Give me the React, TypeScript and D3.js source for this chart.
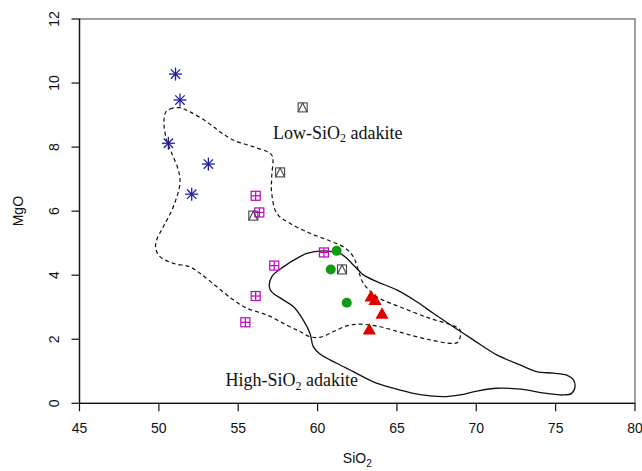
import React from "react";
import * as d3 from "d3";

const xTicks = [45, 50, 55, 60, 65, 70, 75, 80];
const yTicks = [0, 2, 4, 6, 8, 10, 12];

const asteriskSiO2 = [51.05, 51.33, 50.6, 53.12, 52.07];
const asteriskMgO = [10.28, 9.47, 8.12, 7.47, 6.53];

const plusSqSiO2 = [56.1, 56.33, 57.27, 56.1, 55.45, 60.4];
const plusSqMgO = [6.48, 5.96, 4.3, 3.35, 2.53, 4.71];

const circleSiO2 = [61.2, 60.83, 61.84];
const circleMgO = [4.76, 4.18, 3.14];

const triSqSiO2 = [59.06, 57.64, 55.95, 61.54];
const triSqMgO = [9.24, 7.21, 5.86, 4.18];

const triangleSiO2 = [63.37, 63.62, 64.06, 63.26];
const triangleMgO = [3.3, 3.19, 2.76, 2.27];

const lowSiO2FieldX = [50.43, 50.7, 51.33, 51.96, 53.02, 53.85, 54.69, 55.95, 57.0, 57.17, 57.11, 57.11, 57.43, 58.26, 59.52, 60.78, 61.73, 62.25, 62.57, 62.88, 63.73, 65.4, 67.09, 68.45, 68.98, 68.87, 68.55, 67.09, 65.4, 63.94, 62.67, 61.84, 61.0, 60.15, 59.52, 58.89, 58.06, 56.8, 55.54, 54.69, 53.65, 52.59, 51.96, 50.91, 50.07, 49.8, 49.86, 50.28, 50.91, 51.33, 51.23, 50.81, 50.49, 50.32];
const lowSiO2FieldY = [9.09, 9.19, 9.23, 9.1, 8.79, 8.48, 8.22, 8.01, 7.81, 7.69, 7.07, 6.56, 5.93, 5.62, 5.31, 5.07, 4.85, 4.58, 4.16, 3.75, 3.33, 2.97, 2.65, 2.44, 2.29, 1.92, 1.87, 1.98, 2.19, 2.39, 2.47, 2.42, 2.24, 2.06, 2.08, 2.24, 2.44, 2.76, 2.97, 3.23, 3.64, 4.06, 4.26, 4.37, 4.58, 4.84, 5.1, 5.51, 6.14, 6.87, 7.28, 7.81, 8.22, 8.75];

const highSiO2FieldX = [60.36, 60.99, 61.41, 61.84, 62.25, 62.67, 62.88, 63.73, 64.99, 66.25, 67.29, 68.55, 69.81, 71.29, 72.76, 73.81, 74.86, 75.7, 76.12, 76.22, 76.01, 75.49, 74.44, 72.76, 71.29, 70.03, 68.98, 68.14, 67.09, 66.03, 64.77, 63.51, 62.25, 61.21, 60.15, 59.73, 59.52, 59.1, 58.47, 57.84, 57.11, 56.96, 57.11, 57.84, 58.89, 59.32];
const highSiO2FieldY = [4.76, 4.73, 4.68, 4.53, 4.32, 4.11, 4.01, 3.8, 3.54, 3.17, 2.81, 2.39, 1.98, 1.51, 1.2, 0.99, 0.94, 0.88, 0.73, 0.52, 0.31, 0.26, 0.31, 0.44, 0.47, 0.38, 0.26, 0.21, 0.23, 0.31, 0.47, 0.67, 0.99, 1.25, 1.54, 1.77, 2.19, 2.6, 3.02, 3.23, 3.48, 3.64, 3.95, 4.26, 4.58, 4.68];

const W = 642;
const H = 471;
const L = 79.5, R = 635, T = 19, B = 403.3;

export default function App() {
  const x = d3.scaleLinear().domain([45, 80]).range([L, R]);
  const y = d3.scaleLinear().domain([0, 12]).range([B, T]);
  const line = d3
    .line<[number, number]>()
    .x((d) => x(d[0]))
    .y((d) => y(d[1]))
    .curve(d3.curveCatmullRomClosed.alpha(0.5));
  const low = lowSiO2FieldX.map((v, i) => [v, lowSiO2FieldY[i]] as [number, number]);
  const high = highSiO2FieldX.map((v, i) => [v, highSiO2FieldY[i]] as [number, number]);
  const sans = "'Liberation Sans', Arial, sans-serif";
  const serif = "'Liberation Serif', 'Times New Roman', serif";

  return (
    <svg
      width={W}
      height={H}
      style={{ position: "absolute", left: 0, top: 0, background: "#fff" }}
    >
      <rect x={0} y={0} width={W} height={H} fill="#fff" />
      {/* box */}
      <rect x={L} y={T} width={R - L} height={B - T} fill="none" stroke="#6e6e6e" strokeWidth={1.3} />
      {/* axes */}
      <line x1={L} x2={L} y1={T} y2={B} stroke="#111" strokeWidth={1.3} />
      <line x1={L} x2={R} y1={B} y2={B} stroke="#111" strokeWidth={1.3} />
      {xTicks.map((t) => (
        <g key={"xt" + t}>
          <line x1={x(t)} x2={x(t)} y1={B} y2={B + 8} stroke="#111" strokeWidth={1.2} />
          <text x={x(t)} y={B + 30} fontFamily={sans} fontSize={14} textAnchor="middle" fill="#111">
            {t}
          </text>
        </g>
      ))}
      {yTicks.map((t) => (
        <g key={"yt" + t}>
          <line x1={L - 8} x2={L} y1={y(t)} y2={y(t)} stroke="#111" strokeWidth={1.2} />
          <text
            transform={`translate(${L - 21},${y(t)}) rotate(-90)`}
            fontFamily={sans}
            fontSize={14}
            textAnchor="middle"
            fill="#111"
          >
            {t}
          </text>
        </g>
      ))}
      <text
        transform={`translate(23,${(T + B) / 2}) rotate(-90)`}
        fontFamily={sans}
        fontSize={14}
        textAnchor="middle"
        fill="#111"
      >
        MgO
      </text>
      <text x={(L + R) / 2} y={463} fontFamily={sans} fontSize={14} textAnchor="middle" fill="#111">
        SiO<tspan fontSize={10} dy={4}>2</tspan>
      </text>

      {/* fields */}
      <path d={line(low) || ""} fill="none" stroke="#111" strokeWidth={1.2} strokeDasharray="4,3" />
      <path d={line(high) || ""} fill="none" stroke="#111" strokeWidth={1.3} />

      <text x={273} y={138.5} fontFamily={serif} fontSize={18} fill="#111">
        Low-SiO<tspan fontSize={12} dy={3.5}>2</tspan>
        <tspan dy={-3.5}> adakite</tspan>
      </text>
      <text x={225.5} y={386} fontFamily={serif} fontSize={18} fill="#111">
        High-SiO<tspan fontSize={12} dy={3.5}>2</tspan>
        <tspan dy={-3.5}> adakite</tspan>
      </text>

      {/* asterisks */}
      {asteriskSiO2.map((v, i) => {
        const cx = x(v), cy = y(asteriskMgO[i]);
        const r = 6.5, d = r * 0.72;
        return (
          <g key={"as" + i} stroke="#1f1f9e" strokeWidth={1.3}>
            <line x1={cx - r} x2={cx + r} y1={cy} y2={cy} />
            <line x1={cx} x2={cx} y1={cy - r} y2={cy + r} />
            <line x1={cx - d} x2={cx + d} y1={cy - d} y2={cy + d} />
            <line x1={cx - d} x2={cx + d} y1={cy + d} y2={cy - d} />
          </g>
        );
      })}
      {/* squares with plus */}
      {plusSqSiO2.map((v, i) => {
        const cx = x(v), cy = y(plusSqMgO[i]);
        const s = 4.5;
        return (
          <g key={"ps" + i} stroke="#c000c0" strokeWidth={1.2} fill="none">
            <rect x={cx - s} y={cy - s} width={2 * s} height={2 * s} />
            <line x1={cx - s} x2={cx + s} y1={cy} y2={cy} />
            <line x1={cx} x2={cx} y1={cy - s} y2={cy + s} />
          </g>
        );
      })}
      {/* squares with triangle */}
      {triSqSiO2.map((v, i) => {
        const cx = x(v), cy = y(triSqMgO[i]);
        const s = 4.5;
        return (
          <g key={"ts" + i} stroke="#444" strokeWidth={1.1} fill="none">
            <rect x={cx - s} y={cy - s} width={2 * s} height={2 * s} />
            <path d={`M${cx - s},${cy + s}L${cx},${cy - s}L${cx + s},${cy + s}`} />
          </g>
        );
      })}
      {/* circles */}
      {circleSiO2.map((v, i) => (
        <circle key={"c" + i} cx={x(v)} cy={y(circleMgO[i])} r={5} fill="#119a11" />
      ))}
      {/* triangles */}
      {triangleSiO2.map((v, i) => {
        const cx = x(v), cy = y(triangleMgO[i]);
        const sym = d3.symbol(d3.symbolTriangle, 75)();
        return <path key={"tr" + i} d={sym || ""} transform={`translate(${cx},${cy})`} fill="#e00000" />;
      })}
    </svg>
  );
}
